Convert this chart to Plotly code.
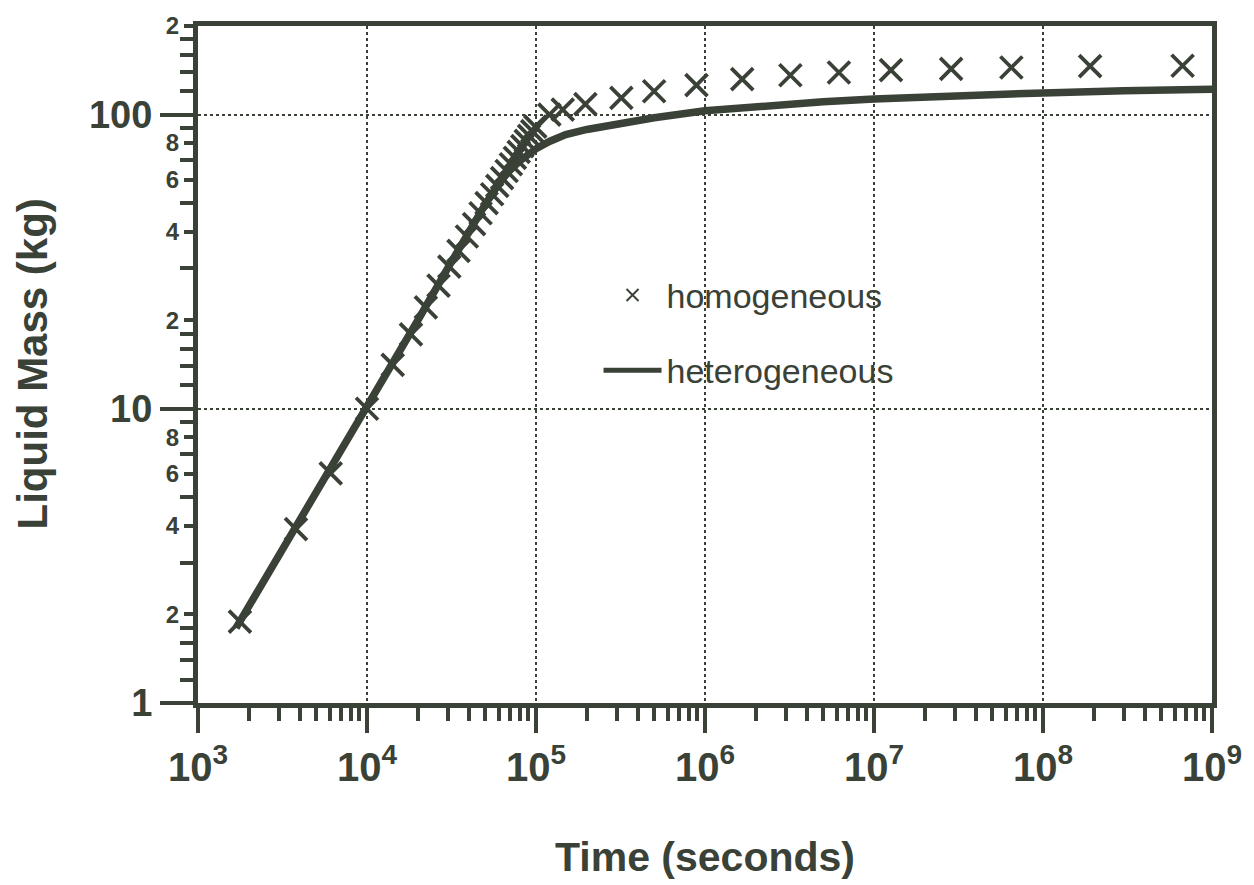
import numpy as np
import plotly.graph_objects as go

INK = "#3a4137"
FONT = "Liberation Sans, Arial, sans-serif"

# homogeneous model (x markers)
homo_t = [1770, 3800, 6100, 10000, 14200, 18200, 22300, 26500, 30700, 34800,
          39000, 43000, 47000, 51000, 55000, 59000, 63000, 67000, 71000, 75000,
          79000, 83000, 87000, 91000, 95000, 99000, 1.2e5, 1.44e5, 1.96e5, 3.2e5,
          5.0e5, 8.9e5, 1.66e6, 3.2e6, 6.2e6, 1.26e7, 2.86e7, 6.5e7, 1.9e8, 6.7e8]
homo_m = [1.89, 3.9, 6.03, 10.0, 14.1, 17.9, 22.1, 26.2, 30.4, 34.4,
          38.5, 42.4, 46.2, 50.0, 53.6, 57.2, 60.8, 64.3, 67.8, 71.3,
          74.7, 78.1, 81.4, 84.6, 87.8, 91.0, 100, 104, 108.5, 114,
          120, 126, 132, 136, 139, 141.5, 143, 144.5, 146, 146.5]

# heterogeneous model (solid line)
hetero_t = [1680, 10000, 20000, 30000, 40000, 50000, 60000, 67000, 80000, 88000,
            1e5, 1.2e5, 1.5e5, 2e5, 3e5, 5e5, 1e6, 2e6, 5e6, 1e7, 3e7, 1e8, 3e8, 1e9]
hetero_m = [1.8, 10, 20, 30, 40, 49.5, 58, 63, 69.5, 72.5,
            76.5, 81, 85.5, 89, 93, 97.5, 103, 106.5, 110.5, 113, 116, 118.5, 120.5, 122]

x_major = [1e3, 1e4, 1e5, 1e6, 1e7, 1e8, 1e9]
x_major_text = ["10<sup>3</sup>", "10<sup>4</sup>", "10<sup>5</sup>", "10<sup>6</sup>",
                "10<sup>7</sup>", "10<sup>8</sup>", "10<sup>9</sup>"]
x_minor = [m * 10 ** e for e in range(3, 9) for m in range(2, 10)]

y_major = [1, 10, 100]
y_major_text = ["1", "10", "100"]
y_labeled_minor = [2, 4, 6, 8, 20, 40, 60, 80, 200]
y_labeled_minor_text = ["2", "4", "6", "8", "2", "4", "6", "8", "2"]
y_unlabeled_minor = [1.2, 1.4, 1.6, 1.8, 3, 5, 7, 9,
                     12, 14, 16, 18, 30, 50, 70, 90,
                     120, 140, 160, 180]

fig = go.Figure()
fig.add_trace(go.Scatter(
    x=homo_t, y=homo_m, mode="markers", name="homogeneous",
    legendgroup="a",
    marker=dict(symbol="x-thin", size=22, line=dict(width=3.8, color=INK), color=INK),
))
fig.add_trace(go.Scatter(
    x=hetero_t, y=hetero_m, mode="lines", name="heterogeneous",
    legendgroup="b",
    line=dict(color=INK, width=7.5),
))
# helper trace so the secondary (label) axis is drawn
fig.add_trace(go.Scatter(x=[None], y=[None], yaxis="y2", showlegend=False, hoverinfo="skip"))

fig.update_layout(
    width=1254, height=885,
    margin=dict(l=198, r=41, t=18, b=182),
    paper_bgcolor="white", plot_bgcolor="white",
    font=dict(family=FONT, color=INK),
    showlegend=True,
    legend=dict(x=0.395, y=0.645, xanchor="left", yanchor="top",
                bgcolor="rgba(0,0,0,0)", font=dict(size=34, color=INK, family=FONT),
                traceorder="grouped", tracegroupgap=28, itemsizing="constant",
                itemwidth=58),
    xaxis=dict(
        type="log", range=[3, 9],
        tickmode="array", tickvals=x_major, ticktext=x_major_text,
        ticks="outside", ticklen=25, tickwidth=4, tickcolor=INK,
        tickfont=dict(size=40, family=FONT, color=INK, weight="bold"),
        showline=True, linewidth=5, linecolor=INK, mirror=True,
        showgrid=True, gridcolor=INK, griddash="dot", gridwidth=1.5,
        minor=dict(tickmode="array", tickvals=x_minor, ticks="outside",
                   ticklen=13, tickwidth=4, tickcolor=INK, showgrid=False),
        zeroline=False,
    ),
    yaxis=dict(
        type="log", range=[0, np.log10(200)],
        tickmode="array", tickvals=y_major, ticktext=y_major_text,
        ticks="outside", ticklen=33, tickwidth=4, tickcolor=INK,
        tickfont=dict(size=38, family=FONT, color=INK, weight="bold"),
        showline=True, linewidth=5, linecolor=INK, mirror=True,
        showgrid=True, gridcolor=INK, griddash="dot", gridwidth=1.5,
        minor=dict(tickmode="array", tickvals=y_unlabeled_minor, ticks="outside",
                   ticklen=13, tickwidth=4, tickcolor=INK, showgrid=False),
        zeroline=False,
    ),
    yaxis2=dict(
        type="log", range=[0, np.log10(200)], overlaying="y", side="left",
        anchor="x",
        tickmode="array", tickvals=y_labeled_minor, ticktext=y_labeled_minor_text,
        ticks="outside", ticklen=13, tickwidth=4, tickcolor=INK,
        tickfont=dict(size=24, family=FONT, color=INK, weight="bold"),
        showline=False, showgrid=False, zeroline=False,
    ),
    annotations=[
        dict(text="Time (seconds)", xref="paper", yref="paper", x=0.5, y=0,
             yshift=-154, showarrow=False, xanchor="center", yanchor="middle",
             font=dict(size=41, family=FONT, color=INK, weight="bold")),
        dict(text="Liquid Mass (kg)", xref="paper", yref="paper", x=0, y=0.5,
             xshift=-166, showarrow=False, xanchor="center", yanchor="middle",
             textangle=-90,
             font=dict(size=42, family=FONT, color=INK, weight="bold")),
    ],
)

fig.write_html("out.html")
